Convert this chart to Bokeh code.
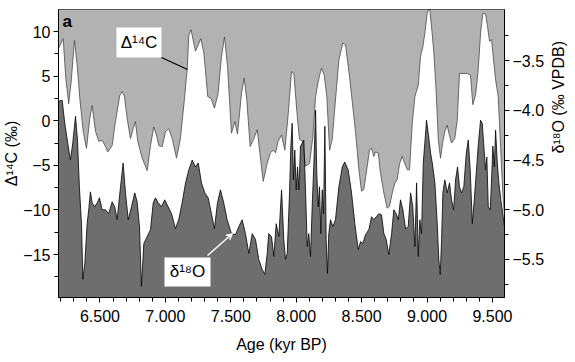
import math
from bokeh.plotting import figure
from bokeh.models import Range1d, LinearAxis, FixedTicker, Label, Arrow, VeeHead, BoxAnnotation
from bokeh.embed import file_html
from bokeh.resources import INLINE

# ---- data (age in kyr BP) ----
d14c_age = [6.183, 6.219, 6.239, 6.261, 6.280, 6.305, 6.326, 6.346, 6.372, 6.397,
            6.422, 6.440, 6.466, 6.491, 6.517, 6.542, 6.560, 6.593, 6.618, 6.651,
            6.670, 6.687, 6.708, 6.733, 6.754, 6.771, 6.789, 6.823, 6.861, 6.886,
            6.911, 6.932, 6.950, 6.976, 7.001, 7.026, 7.052, 7.085, 7.115, 7.146,
            7.167, 7.179, 7.196, 7.230, 7.271, 7.294, 7.324, 7.350, 7.375, 7.402,
            7.429, 7.452, 7.475, 7.505, 7.531, 7.551, 7.582, 7.602, 7.622, 7.648,
            7.676, 7.702, 7.722, 7.748, 7.778, 7.803, 7.824, 7.842, 7.862, 7.888,
            7.913, 7.939, 7.964, 7.982, 8.008, 8.025, 8.050, 8.071, 8.102, 8.127,
            8.148, 8.168, 8.193, 8.214, 8.234, 8.255, 8.275, 8.300, 8.326, 8.356,
            8.377, 8.407, 8.433, 8.453, 8.479, 8.499, 8.517, 8.543, 8.560, 8.576,
            8.593, 8.606, 8.627, 8.644, 8.670, 8.695, 8.713, 8.734, 8.754, 8.772,
            8.790, 8.810, 8.830, 8.849, 8.866, 8.887, 8.907, 8.933, 8.950, 8.968,
            8.983, 9.001, 9.019, 9.034, 9.052, 9.070, 9.086, 9.103, 9.121, 9.136,
            9.154, 9.167, 9.187, 9.212, 9.231, 9.248, 9.307, 9.332, 9.350, 9.371,
            9.391, 9.409, 9.426, 9.447, 9.462, 9.478, 9.493, 9.503, 9.524, 9.544,
            9.562, 9.579, 9.592]
d14c = [8.1, 9.2, 4.7, 1.9, 4.4, 9.0, 6.2, 2.5, -1.2, -3.1,
        0.25, 1.7, -1.2, -2.3, -2.2, -2.9, -3.5, -2.8, -0.1, 2.8,
        3.3, 2.7, 0.25, -2.0, -0.9, -0.1, -2.3, -4.2, -5.6, -2.8,
        -0.7, -1.6, -2.8, -2.9, -1.2, -0.9, -2.0, -4.2, -2.0, 2.5,
        5.9, 9.6, 10.2, 7.8, 9.2, 7.6, 2.7, 2.5, 1.4, 3.0,
        7.2, 9.4, 6.1, -1.4, -0.1, -1.5, 3.1, 4.8, 2.4, -2.9,
        -2.0, -1.0, -3.6, -6.8, -4.8, -3.6, -3.3, -3.6, -2.3, -1.6,
        -3.3, 0.8, 5.5, 5.3, 0.5, -2.1, -2.3, -5.1, -4.8, -1.8,
        2.7, 4.4, 5.9, 5.1, 2.7, -3.3, -2.1, 2.3, 6.8, 8.7,
        8.5, 5.0, 1.5, -1.2, -5.5, -7.9, -7.7, -5.1, -3.3, -3.1,
        -4.0, -3.5, -3.6, -5.9, -8.1, -9.8, -9.6, -8.1, -7.0, -6.6,
        -4.8, -4.0, -4.8, -5.5, -5.5, -0.3, 2.7, 4.0, 7.2, 8.3,
        9.8, 12.0, 12.8, 10.6, 7.6, 3.1, -2.1, -4.2, -2.3, -1.2,
        -0.5, -1.4, -2.5, -2.0, 0.1, 5.3, 5.3, 5.1, 1.8, 2.9,
        5.7, 9.8, 12.0, 12.0, 10.6, 8.9, 9.1, 7.6, 4.6, 2.7,
        -2.9, -8.1, -10.7]

d18o_age = [6.183, 6.211, 6.231, 6.257, 6.274, 6.292, 6.313, 6.328, 6.343, 6.359,
            6.369, 6.384, 6.402, 6.414, 6.427, 6.440, 6.460, 6.479, 6.496, 6.517,
            6.542, 6.567, 6.593, 6.613, 6.631, 6.657, 6.677, 6.695, 6.716, 6.741,
            6.766, 6.784, 6.802, 6.817, 6.835, 6.861, 6.886, 6.907, 6.924, 6.945,
            6.970, 6.995, 7.021, 7.047, 7.077, 7.102, 7.128, 7.154, 7.179, 7.205,
            7.230, 7.251, 7.276, 7.301, 7.327, 7.352, 7.375, 7.398, 7.421, 7.446,
            7.472, 7.505, 7.536, 7.561, 7.587, 7.612, 7.638, 7.664, 7.689, 7.714,
            7.740, 7.760, 7.778, 7.790, 7.811, 7.829, 7.847, 7.867, 7.888, 7.905,
            7.918, 7.931, 7.949, 7.959, 7.969, 7.979, 7.989, 8.000, 8.010, 8.020,
            8.033, 8.046, 8.058, 8.071, 8.084, 8.096, 8.109, 8.122, 8.135, 8.148,
            8.157, 8.168, 8.178, 8.188, 8.199, 8.209, 8.219, 8.229, 8.239, 8.249,
            8.262, 8.280, 8.300, 8.326, 8.352, 8.371, 8.397, 8.423, 8.448, 8.474,
            8.492, 8.509, 8.530, 8.555, 8.576, 8.593, 8.612, 8.631, 8.652, 8.670,
            8.688, 8.708, 8.729, 8.746, 8.764, 8.780, 8.797, 8.815, 8.836, 8.856,
            8.874, 8.891, 8.907, 8.920, 8.933, 8.945, 8.958, 8.971, 8.983, 8.996,
            9.009, 9.027, 9.040, 9.060, 9.078, 9.090, 9.101, 9.111, 9.121, 9.136,
            9.154, 9.172, 9.187, 9.203, 9.218, 9.233, 9.248, 9.264, 9.281, 9.300,
            9.315, 9.330, 9.346, 9.361, 9.376, 9.391, 9.409, 9.422, 9.434, 9.447,
            9.457, 9.468, 9.483, 9.493, 9.503, 9.514, 9.524, 9.537, 9.549, 9.564,
            9.579, 9.592]
d18o = [-3.91, -3.90, -4.13, -4.36, -4.50, -4.33, -4.06, -4.30, -4.78, -5.14,
        -5.70, -5.54, -5.14, -5.00, -4.82, -4.93, -4.97, -4.93, -4.88, -5.00,
        -5.00, -5.04, -4.92, -4.97, -5.10, -4.77, -4.53, -4.83, -5.10, -4.97,
        -4.83, -4.92, -5.17, -5.77, -5.34, -5.27, -5.20, -4.93, -4.88, -4.93,
        -4.97, -4.90, -4.97, -5.04, -5.19, -5.10, -4.93, -4.73, -4.60, -4.50,
        -4.57, -4.53, -4.73, -4.83, -4.88, -5.04, -5.19, -4.93, -4.80, -4.93,
        -5.10, -5.24, -5.25, -5.17, -5.10, -5.24, -5.44, -5.24, -5.30, -5.50,
        -5.60, -5.65, -5.44, -5.24, -5.27, -5.47, -5.14, -5.27, -4.80, -5.30,
        -5.50, -5.44, -4.83, -4.36, -4.13, -4.70, -4.40, -4.80, -4.57, -4.80,
        -4.36, -4.33, -4.30, -4.80, -5.37, -5.24, -5.47, -4.97, -4.53, -4.00,
        -4.63, -4.97, -4.77, -5.24, -4.80, -5.04, -4.16, -5.30, -5.64, -5.24,
        -5.10, -5.17, -5.10, -4.77, -4.57, -4.52, -4.60, -4.83, -5.14, -5.40,
        -5.32, -5.34, -5.25, -5.20, -5.07, -5.10, -5.07, -5.04, -5.05, -5.24,
        -5.30, -5.45, -5.24, -5.00, -5.04, -5.10, -4.90, -5.00, -5.19, -5.17,
        -4.83, -4.97, -5.37, -4.73, -5.47, -5.10, -5.24, -4.53, -4.33, -4.10,
        -4.23, -4.43, -4.53, -4.73, -5.14, -5.50, -5.65, -5.30, -4.83, -4.70,
        -4.83, -4.73, -4.90, -5.00, -4.70, -4.57, -4.77, -4.83, -4.77, -4.43,
        -4.30, -4.60, -5.14, -4.90, -4.63, -4.36, -4.10, -4.13, -4.36, -4.60,
        -4.47, -4.97, -5.00, -4.70, -4.36, -4.57, -4.20, -4.53, -4.73, -4.90,
        -5.04, -5.17]

x_ticks = [6.5, 7.0, 7.5, 8.0, 8.5, 9.0, 9.5]
x_tick_labels = ["6.500", "7.000", "7.500", "8.000", "8.500", "9.000", "9.500"]
x_minor = [6.2, 6.3, 6.4, 6.6, 6.7, 6.8, 6.9, 7.1, 7.2, 7.3, 7.4, 7.6, 7.7, 7.8, 7.9,
           8.1, 8.2, 8.3, 8.4, 8.6, 8.7, 8.8, 8.9, 9.1, 9.2, 9.3, 9.4, 9.5]
left_ticks = [-15, -10, -5, 0, 5, 10]
left_tick_labels = ["\u221215", "\u221210", "\u22125", "0", "5", "10"]
left_minor = [-17.5, -12.5, -7.5, -2.5, 2.5, 7.5]
right_ticks = [-5.5, -5.0, -4.5, -4.0, -3.5]
right_tick_labels = ["\u22125.5", "\u22125.0", "\u22124.5", "\u22124.0", "\u22123.5"]
right_minor = [-5.75, -5.25, -4.75, -4.25, -3.75, -3.25]
right_title = "\u03b4\u00b9\u2078O (\u2030 VPDB)"

FONT = "Liberation Sans"
LIGHT = "#b2b2b2"
DARK = "#6e6e6e"

p = figure(frame_width=446, frame_height=288, x_range=Range1d(6.183, 9.592),
           y_range=Range1d(-19.82, 12.47), output_backend="svg",
           toolbar_location=None, min_border_left=0, min_border_right=0,
           min_border_top=9, min_border_bottom=0)
p.extra_y_ranges = {"d18o": Range1d(-5.882, -2.987)}
p.xgrid.visible = False
p.ygrid.visible = False
p.outline_line_color = "black"
p.outline_line_width = 1
p.background_fill_color = "white"
p.border_fill_color = "white"

# fills
p.varea(x=d14c_age, y1=d14c, y2=14.0, fill_color=LIGHT)
p.varea(x=d18o_age, y1=d18o, y2=-6.5, fill_color=DARK, y_range_name="d18o")
p.line(d14c_age, d14c, line_color="#4a4a4a", line_width=0.8)
p.line(d18o_age, d18o, line_color="black", line_width=0.8, y_range_name="d18o")

def style(ax):
    ax.axis_line_color = "black"
    ax.major_tick_line_color = "black"
    ax.minor_tick_line_color = "black"
    ax.major_tick_in = 0
    ax.major_tick_out = 5
    ax.minor_tick_in = 0
    ax.minor_tick_out = 4
    ax.major_label_text_font = FONT
    ax.major_label_text_font_size = "16px"
    ax.major_label_text_color = "black"
    ax.axis_label_text_font = FONT
    ax.axis_label_text_font_size = "16px"
    ax.axis_label_text_font_style = "normal"
    ax.axis_label_text_color = "black"
    ax.major_label_standoff = 3
    ax.axis_label_standoff = 2

xa = p.xaxis[0]
xa.ticker = FixedTicker(ticks=x_ticks, minor_ticks=x_minor)
xa.major_label_overrides = dict(zip(x_ticks, x_tick_labels))
xa.axis_label = "Age (kyr BP)"
style(xa)
xa.major_label_standoff = 7
xa.axis_label_standoff = 11

ya = p.yaxis[0]
ya.ticker = FixedTicker(ticks=left_ticks, minor_ticks=left_minor)
ya.major_label_overrides = dict(zip(left_ticks, left_tick_labels))
ya.axis_label = "\u0394\u00b9\u2074C (\u2030)"
style(ya)
ya.axis_label_standoff = 0

ra = LinearAxis(y_range_name="d18o",
                ticker=FixedTicker(ticks=right_ticks, minor_ticks=right_minor),
                axis_label=right_title)
ra.major_label_overrides = dict(zip(right_ticks, right_tick_labels))
style(ra)
ra.axis_label_orientation = math.pi / 2   # read bottom-to-top like the reference
ra.axis_label_standoff = 11
p.add_layout(ra, "right")

# annotations
p.add_layout(Label(x=6.213, y=12.2, text="a", text_font=FONT, text_font_style="bold",
                   text_font_size="17px", text_baseline="top", text_color="black"))

p.add_layout(BoxAnnotation(left=6.626, right=6.970, top=10.45, bottom=7.09,
                           fill_color="white", fill_alpha=1, line_color=None))
p.add_layout(Label(x=6.798, y=8.77, text="\u0394\u00b9\u2074C", text_font=FONT,
                   text_font_size="17px", text_align="center", text_baseline="middle",
                   text_color="black"))
p.add_layout(Arrow(x_start=6.970, y_start=7.09, x_end=7.169, y_end=5.74, end=None,
                   line_color="black", line_width=1.3))

p.add_layout(BoxAnnotation(left=6.993, right=7.345, top=-15.34, bottom=-18.59,
                           fill_color="white", fill_alpha=1, line_color=None))
p.add_layout(Label(x=7.169, y=-16.96, text="\u03b4\u00b9\u2078O", text_font=FONT,
                   text_font_size="17px", text_align="center", text_baseline="middle",
                   text_color="black"))
p.add_layout(Arrow(x_start=7.322, y_start=-15.11, x_end=7.513, y_end=-12.65,
                   line_color="white", line_width=1.5,
                   end=VeeHead(size=6, fill_color="white", line_color="white")))

open("out.html", "w").write(file_html(p, INLINE))
